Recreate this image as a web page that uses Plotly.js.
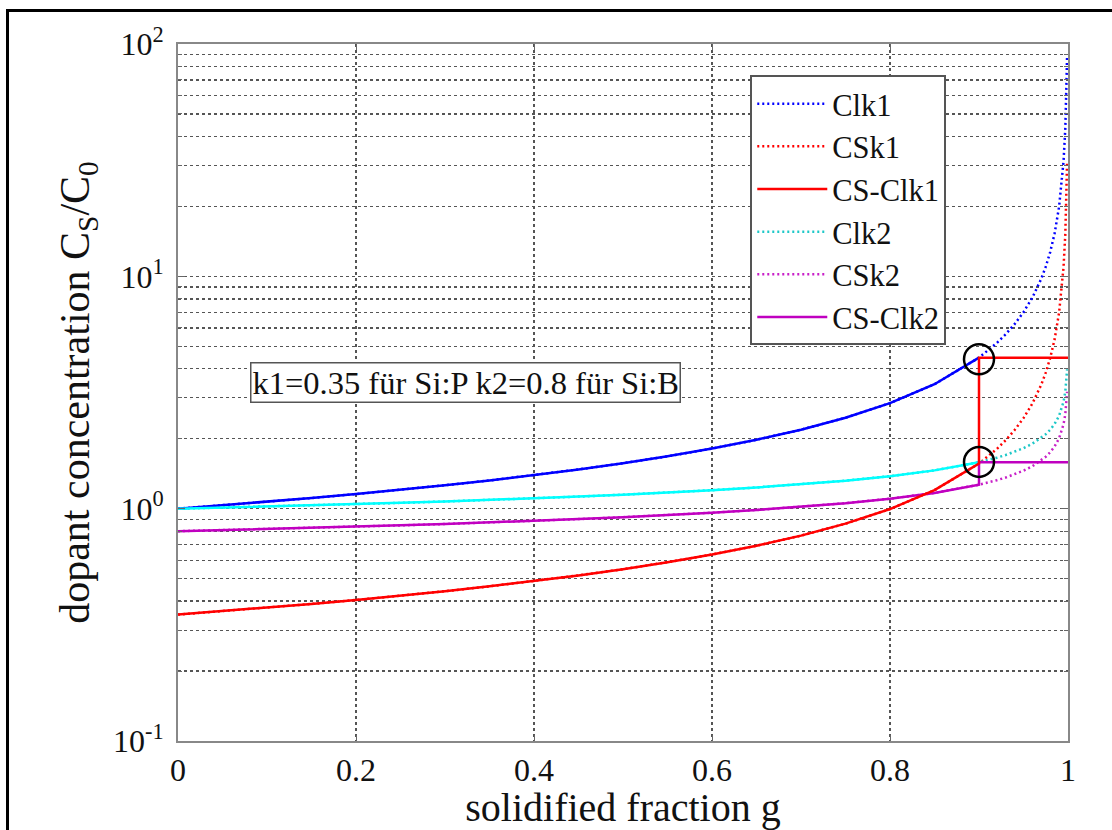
<!DOCTYPE html>
<html>
<head>
<meta charset="utf-8">
<script src="https://cdn.plot.ly/plotly-3.0.1.min.js"></script>
<style>
  html, body { margin: 0; padding: 0; background: #fff; }
  #chart { width: 1112px; height: 830px; position: absolute; left: 0; top: 0; }
  #frame { position: absolute; left: 6px; top: 9px; width: 1112px; height: 830px;
           border-top: 3px solid #000; border-left: 3px solid #000; pointer-events: none; }
</style>
</head>
<body>
<div id="chart"></div>
<div id="frame"></div>
<script>
// solidified fraction g
const g = [0, 0.05, 0.1, 0.15, 0.2, 0.25, 0.3, 0.35, 0.4, 0.45, 0.5, 0.55, 0.6, 0.65, 0.7, 0.75, 0.8, 0.85, 0.9,
           0.91, 0.92, 0.93, 0.94, 0.95, 0.96, 0.97, 0.975, 0.98, 0.985, 0.99, 0.993, 0.995, 0.997, 0.998, 0.999];
// concentrations
const clk1 = [1.0, 1.034, 1.071, 1.111, 1.156, 1.206, 1.261, 1.323, 1.394, 1.475, 1.569, 1.680, 1.814, 1.979, 2.187, 2.462, 2.847, 3.432, 4.467,
              4.783, 5.164, 5.632, 6.226, 7.009, 8.104, 9.769, 11.00, 12.72, 15.33, 19.95, 25.16, 31.31, 43.63, 56.81, 89.12];
const csk1 = [0.35, 0.3619, 0.3748, 0.3890, 0.4046, 0.4220, 0.4413, 0.4631, 0.4878, 0.5162, 0.5492, 0.5881, 0.6349, 0.6925, 0.7655, 0.8618, 0.9963, 1.2011, 1.5634,
              1.674, 1.807, 1.971, 2.179, 2.453, 2.836, 3.419, 3.850, 4.451, 5.366, 6.983, 8.806, 10.96, 15.27, 19.88, 31.19];
const clk2 = [1.0, 1.0103, 1.0213, 1.0330, 1.0456, 1.0592, 1.0739, 1.0900, 1.1076, 1.1270, 1.1487, 1.1732, 1.2011, 1.2336, 1.2723, 1.3195, 1.3797, 1.4615, 1.5849,
              1.6186, 1.6572, 1.7021, 1.7554, 1.8206, 1.9037, 2.0164, 2.0913, 2.1867, 2.3162, 2.5119, 2.6976, 2.8854, 3.1958, 3.4657, 3.9811];
const csk2 = [0.8, 0.8083, 0.8170, 0.8264, 0.8365, 0.8474, 0.8592, 0.8720, 0.8861, 0.9016, 0.9190, 0.9385, 0.9609, 0.9869, 1.0178, 1.0556, 1.1038, 1.1692, 1.2679,
              1.2949, 1.3258, 1.3617, 1.4043, 1.4565, 1.5229, 1.6131, 1.6730, 1.7494, 1.8530, 2.0095, 2.1581, 2.3083, 2.5567, 2.7726, 3.1849];
// solid segments: up to g = 0.9, then the jump at g = 0.9 and the hold to g = 1
const gSolid = g.slice(0, 19);
const clk1Solid = clk1.slice(0, 19);
const clk2Solid = clk2.slice(0, 19);
const gStep = gSolid.concat([0.9, 1.0]);
const csClk1 = csk1.slice(0, 19).concat([4.467, 4.467]);
const csClk2 = csk2.slice(0, 19).concat([1.585, 1.585]);
// marked points (circles)
const circleG = [0.9, 0.9];
const circleC = [4.40, 1.59];
// ticks
const yTickVals = [0.1, 1, 10, 100];
const yTickText = ['10<sup>-1</sup>', '10<sup>0</sup>', '10<sup>1</sup>', '10<sup>2</sup>'];
const yMinorVals = [0.2,0.3,0.4,0.5,0.6,0.7,0.8,0.9,2,3,4,5,6,7,8,9,20,30,40,50,60,70,80,90];
const xTickVals = [0, 0.2, 0.4, 0.6, 0.8, 1];
const xTickText = ['0', '0.2', '0.4', '0.6', '0.8', '1'];

const BLUE = '#0000ff', RED = '#ff0000', CYAN = '#00ffff', CYAN_DOT = '#1ec8c8', MAG = '#c000c0', MAG_DOT = '#c820c8';
const DOT = '2px,3px';
const GRIDDASH = '3px,3px';

const traces = [
  {x: g, y: clk1, name: 'Clk1', mode: 'lines', line: {color: BLUE, width: 2.5, dash: DOT}, legendrank: 1},
  {x: g, y: csk1, name: 'CSk1', mode: 'lines', line: {color: RED, width: 2.5, dash: DOT}, legendrank: 2},
  {x: g, y: clk2, name: 'Clk2', mode: 'lines', line: {color: CYAN_DOT, width: 2.5, dash: DOT}, legendrank: 4},
  {x: g, y: csk2, name: 'CSk2', mode: 'lines', line: {color: MAG_DOT, width: 2.5, dash: DOT}, legendrank: 5},
  {x: gSolid, y: clk1Solid, mode: 'lines', line: {color: BLUE, width: 2.5}, showlegend: false},
  {x: gSolid, y: clk2Solid, mode: 'lines', line: {color: CYAN, width: 2.5}, showlegend: false},
  {x: gStep, y: csClk2, name: 'CS-Clk2', mode: 'lines', line: {color: MAG, width: 2.5}, legendrank: 6},
  {x: gStep, y: csClk1, name: 'CS-Clk1', mode: 'lines', line: {color: RED, width: 2.5}, legendrank: 3},
  {x: circleG, y: circleC, mode: 'markers', marker: {symbol: 'circle-open', size: 30, color: '#000', line: {width: 2.5, color: '#000'}}, showlegend: false}
];

const FONT = 'Liberation Serif, Times New Roman, serif';
const layout = {
  width: 1112, height: 830,
  margin: {l: 178, r: 44, t: 44, b: 89},
  paper_bgcolor: '#fff', plot_bgcolor: '#fff',
  font: {family: FONT, color: '#111', size: 30},
  showlegend: true,
  legend: {
    x: 0.643, y: 0.955, xanchor: 'left', yanchor: 'top',
    bgcolor: '#fff', bordercolor: '#555', borderwidth: 2,
    font: {family: FONT, size: 30.5, color: '#111'},
    itemwidth: 70,
    traceorder: 'normal'
  },
  xaxis: {
    range: [0, 1], tickvals: xTickVals, ticktext: xTickText,
    ticks: 'inside', ticklen: 6, tickcolor: '#666',
    showline: true, mirror: 'ticks', linecolor: '#888', linewidth: 2,
    showgrid: true, gridcolor: '#555', gridwidth: 1.3, griddash: GRIDDASH,
    zeroline: false,
    tickfont: {family: FONT, size: 32, color: '#111'},
    title: {text: 'solidified fraction g', font: {family: FONT, size: 40, color: '#111'}, standoff: 4}
  },
  yaxis: {
    type: 'log', range: [-1, 2], tickvals: yTickVals, ticktext: yTickText,
    ticks: 'inside', ticklen: 7, tickcolor: '#666',
    minor: {tickmode: 'array', tickvals: yMinorVals, ticks: 'inside', ticklen: 4, tickcolor: '#666',
            showgrid: true, gridcolor: '#555', gridwidth: 1.3, griddash: GRIDDASH},
    showline: true, mirror: 'ticks', linecolor: '#888', linewidth: 2,
    showgrid: true, gridcolor: '#555', gridwidth: 1.3, griddash: GRIDDASH,
    zeroline: false, ticklabelstandoff: 6,
    tickfont: {family: FONT, size: 32, color: '#111'},
    title: {text: 'dopant concentration C<sub>S</sub>/C<sub>0</sub>', font: {family: FONT, size: 42, color: '#111'}, standoff: 10}
  },
  annotations: [{
    xref: 'paper', yref: 'paper', x: 0.323, y: 0.514, xanchor: 'center', yanchor: 'middle',
    text: 'k1=0.35 für Si:P k2=0.8 für Si:B', showarrow: false,
    font: {family: FONT, size: 32.5, color: '#111'},
    bgcolor: '#fff', bordercolor: '#555', borderwidth: 1.5, borderpad: 1
  }]
};

Plotly.newPlot('chart', traces, layout, {displayModeBar: false, staticPlot: true});
</script>
</body>
</html>
